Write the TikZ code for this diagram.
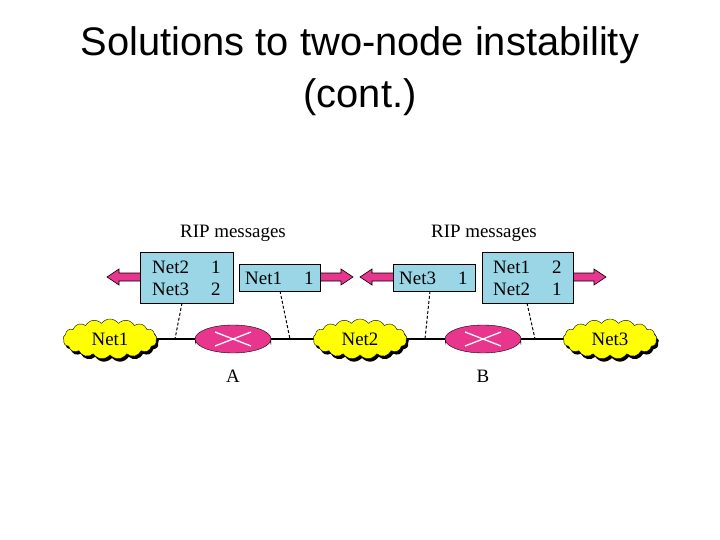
\documentclass[tikz,border=0pt]{standalone}
\usepackage{fontspec}
\setmainfont{Liberation Serif}
\newfontfamily\sansf{Liberation Sans}
\usetikzlibrary{shapes.symbols,shapes.geometric,shadows}
\definecolor{boxblue}{HTML}{9AD6E6}
\definecolor{mag}{HTML}{E8358E}
\definecolor{cloudy}{HTML}{FFFF00}
\tikzset{
 box/.style={draw,fill=boxblue,inner sep=0pt,anchor=north west},
 net/.style={cloud,cloud puffs=17,cloud puff arc=110,aspect=2.3,draw,fill=cloudy,minimum width=94bp,minimum height=40bp,inner sep=0pt,font=\fontsize{19}{22}\selectfont,drop shadow={fill=black,opacity=1,shadow xshift=2bp,shadow yshift=-3bp}},
 marrow/.pic={\draw[fill=mag,line width=0.6pt] (0,-4) -- (-22,-4) -- (-22,-8) -- (-34,0) -- (-22,8) -- (-22,4) -- (0,4) -- cycle;},
 dl/.style={densely dashed,line width=1pt},
 lbl/.style={font=\fontsize{19}{22}\selectfont},
 tx/.style={lbl,anchor=west,inner sep=0pt}
}
\begin{document}
\begin{tikzpicture}[x=1bp,y=-1bp]
\useasboundingbox (0,0) rectangle (720,540);
\node[font=\sansf\fontsize{40}{44}\selectfont] (t1) at (360,45) {Solutions to two-node instability};
\node[font=\sansf\fontsize{40}{44}\selectfont] (t2) at (360,97) {(cont.)};
\node[lbl] (r1) at (233,233) {RIP messages};
\node[lbl] (r2) at (484,233) {RIP messages};
% line
\coordinate (la) at (155,339); \coordinate (lb) at (565,339);
\draw[line width=1.3pt] (la) -- (lb);
% arrows
\pic at (141,277) {marrow};
\pic[xscale=-1] at (319,277) {marrow};
\pic at (394,277) {marrow};
\pic[xscale=-1] at (572,277) {marrow};
% boxes
\node[box,minimum width=93bp,minimum height=51bp] (b1) at (140,252) {};
\node[tx] (b1a) at (152,267) {Net2}; \node[tx] (b1b) at (211,267) {1};
\node[tx] (b1c) at (152,289) {Net3}; \node[tx] (b1d) at (211,289) {2};
\node[box,minimum width=81bp,minimum height=27bp] (b2) at (239,264) {};
\node[tx] (b2a) at (245,278) {Net1}; \node[tx] (b2b) at (304,278) {1};
\node[box,minimum width=82bp,minimum height=27bp] (b3) at (393,264) {};
\node[tx] (b3a) at (399,278) {Net3}; \node[tx] (b3b) at (458,278) {1};
\node[box,minimum width=91bp,minimum height=51bp] (b4) at (482,252) {};
\node[tx] (b4a) at (493,267) {Net1}; \node[tx] (b4b) at (552,267) {2};
\node[tx] (b4c) at (493,289) {Net2}; \node[tx] (b4d) at (552,289) {1};
% dashed
\coordinate (d1) at (175,339); \coordinate (d2) at (290,339);
\coordinate (d3) at (425,339); \coordinate (d4) at (535,339);
\coordinate (e1) at (182,303); \coordinate (e2) at (280,291);
\coordinate (e3) at (430,291); \coordinate (e4) at (527,303);
\foreach \i in {1,...,4}{\draw[dl] (e\i) -- (d\i);}
% clouds
\node[net] (n1) at (110,339) {Net1};
\node[net] (n2) at (360,339) {Net2};
\node[net] (n3) at (610,339) {Net3};
% routers
\foreach \x/\n in {233/A,483/B}{
 \fill[black] (\x-38,339) -- (\x-38,345) arc[start angle=180,end angle=360,x radius=38,y radius=14] -- (\x+38,339) -- cycle;
 \node[ellipse,draw,fill=mag,minimum width=76bp,minimum height=28bp,inner sep=0pt] (r\n) at (\x,339) {};
 \draw[white,line width=1.3pt] (\x-18,332) -- (\x+18,346) (\x-18,346) -- (\x+18,332);
 \node[lbl] (l\n) at (\x,376) {\n};
}
\end{tikzpicture}
\end{document}
